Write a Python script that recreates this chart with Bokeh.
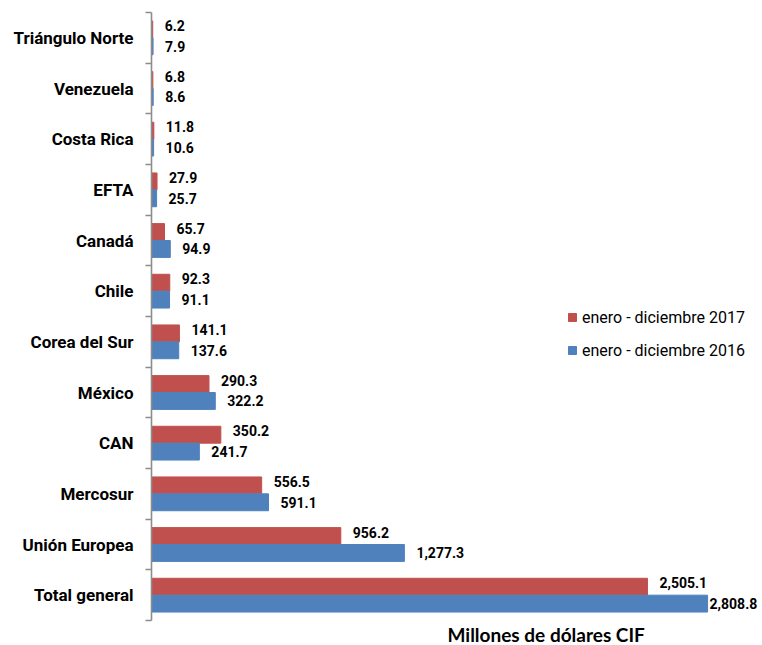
from bokeh.plotting import figure
from bokeh.models import (ColumnDataSource, FixedTicker, LinearAxis, Legend,
                          LegendItem, Title, Range1d)
from bokeh.embed import file_html
from bokeh.resources import INLINE
from bokeh.core.properties import value

# ---- data (top to bottom as in the chart) ----
categories = ["Triángulo Norte", "Venezuela", "Costa Rica", "EFTA", "Canadá",
              "Chile", "Corea del Sur", "México", "CAN", "Mercosur",
              "Unión Europea", "Total general"]
values_2017 = [6.2, 6.8, 11.8, 27.9, 65.7, 92.3, 141.1, 290.3, 350.2, 556.5,
               956.2, 2505.1]
values_2016 = [7.9, 8.6, 10.6, 25.7, 94.9, 91.1, 137.6, 322.2, 241.7, 591.1,
               1277.3, 2808.8]
series_names = ["enero - diciembre 2017", "enero - diciembre 2016"]
axis_title = "Millones de dólares CIF"

RED = "#C0504D"
BLUE = "#4F81BD"
FONT = "Roboto"

n = len(categories)
# bottom category gets index 0
idx = [n - 1 - i for i in range(n)]
bar_h = 1.0 / 3.0
y_red = [i + 0.5 + bar_h / 2 for i in idx]
y_blue = [i + 0.5 - bar_h / 2 for i in idx]

vmax = max(values_2017 + values_2016)

def fmt(v):
    return "{:,.1f}".format(v)

src_red = ColumnDataSource(dict(y=y_red, v=values_2017,
                                lab=[fmt(v) for v in values_2017],
                                xo=[2 if v == vmax else 12 for v in values_2017]))
src_blue = ColumnDataSource(dict(y=y_blue, v=values_2016,
                                 lab=[fmt(v) for v in values_2016],
                                 xo=[2 if v == vmax else 12 for v in values_2016]))

p = figure(frame_width=607, frame_height=608,
           x_range=Range1d(0, 3066), y_range=Range1d(0, n),
           output_backend="svg", toolbar_location=None,
           min_border_left=151, min_border_right=0,
           min_border_top=12, min_border_bottom=0)
p.outline_line_color = None
p.grid.visible = False
p.xaxis.visible = False
p.background_fill_color = "white"
p.border_fill_color = "white"

r_red = p.hbar(y="y", left=0, right="v", height=bar_h, source=src_red,
               fill_color=RED, line_color=RED)
r_blue = p.hbar(y="y", left=0, right="v", height=bar_h, source=src_blue,
                fill_color=BLUE, line_color=BLUE)

for src, yo in ((src_red, -4), (src_blue, 0)):
    p.text(x="v", y="y", text="lab", source=src, x_offset="xo", y_offset=yo,
           text_align="left", text_baseline="middle",
           text_font=value(FONT), text_font_style="bold",
           text_font_size="14px", text_color="black")

# inner axis: line + boundary ticks
ya = p.yaxis[0]
ya.ticker = FixedTicker(ticks=list(range(n + 1)))
ya.major_label_overrides = {i: "" for i in range(n + 1)}
ya.major_label_standoff = 0
ya.major_tick_in = 0
ya.major_tick_out = 6
ya.minor_tick_line_color = None
ya.axis_line_color = "#8c8c8c"
ya.axis_line_width = 1.6
ya.major_tick_line_color = "#8c8c8c"
ya.major_tick_line_width = 1.6

# outer axis: category names
yb = LinearAxis(ticker=FixedTicker(ticks=[i + 0.5 for i in range(n)]))
yb.major_label_overrides = {idx[k] + 0.5: categories[k] for k in range(n)}
yb.axis_line_color = None
yb.major_tick_line_color = None
yb.minor_tick_line_color = None
yb.major_tick_in = 0
yb.major_tick_out = 0
yb.major_label_standoff = 12
yb.major_label_text_font = FONT
yb.major_label_text_font_style = "bold"
yb.major_label_text_font_size = "17px"
yb.major_label_text_color = "black"
p.add_layout(yb, "left")

legend = Legend(items=[LegendItem(label=series_names[0], renderers=[r_red]),
                       LegendItem(label=series_names[1], renderers=[r_blue])],
                location=(416, 260), orientation="vertical",
                glyph_width=10, glyph_height=10, label_standoff=5,
                spacing=13, padding=0, margin=0,
                border_line_color=None, background_fill_alpha=0,
                label_text_font=FONT, label_text_font_size="16px",
                label_text_color="black", label_height=20)
p.add_layout(legend)

title = Title(text=axis_title, align="left", offset=296, standoff=0,
              text_font="Lato", text_font_style="bold",
              text_font_size="19px", text_color="black")
p.add_layout(title, "below")

open("out.html", "w").write(file_html(p, INLINE))
